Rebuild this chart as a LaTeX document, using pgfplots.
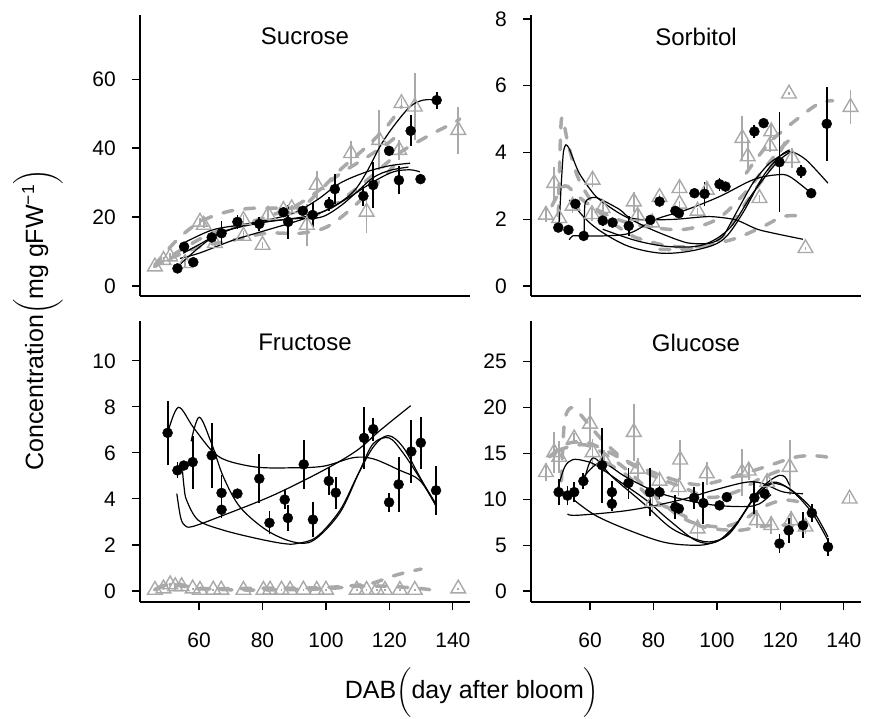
\documentclass[border=0pt]{standalone}
\usepackage{fontspec}
\setmainfont{Liberation Sans}
\usepackage{amsmath}
\usepackage{pgfplots}
\pgfplotsset{compat=1.18}

\definecolor{tricol}{RGB}{169,169,169}
\newcommand{\lbl}{\fontsize{21}{25}\selectfont}
\newcommand{\ttl}{\fontsize{24}{28}\selectfont}
\newcommand{\axl}{\fontsize{25}{30}\selectfont}
% big parentheses round the units
\newcommand{\lp}{{\fontsize{20}{24}\selectfont$\biggl($}}
\newcommand{\rp}{{\fontsize{20}{24}\selectfont$\biggr)$}}

\pgfplotsset{
  panel/.style={
    scale only axis, width=330pt, height=281pt,
    axis x line*=bottom, axis y line*=left,
    axis line style={line width=1.2pt},
    every tick/.style={black, line width=1.2pt},
    major tick length=8pt, tick align=outside,
    xmin=41.4, xmax=145.4, clip=false,
    tick label style={font=\lbl},
    yticklabel style={anchor=east, inner sep=0pt, xshift=-16pt},
    xticklabel style={anchor=north, inner sep=0pt, yshift=-23pt},
    /pgf/number format/assume math mode=true,
  },
  bdot/.style={only marks, mark=*, mark size=5pt, black,
    error bars/.cd, y dir=both, y explicit, error mark=none,
    error bar style={line width=1.8pt, black}},
  gtri/.style={only marks, mark=triangle, mark size=8.5pt, tricol,
    mark options={line width=1.4pt},
    error bars/.cd, y dir=both, y explicit, error mark=none,
    error bar style={line width=1.8pt, tricol}},
  bfit/.style={black, line width=1.2pt, smooth, tension=0.55, no marks},
  gfit/.style={tricol, line width=3.5pt, smooth, tension=0.55,
    dash pattern=on 10pt off 12pt, line cap=round, no marks},
}

\newcommand{\ptitle}[1]{\node[font=\ttl, anchor=north, inner sep=0pt, yshift=-13pt]
  at (rel axis cs:0.5,1) {#1};}

\begin{document}
\begin{tikzpicture}
\path[use as bounding box] (0,0) rectangle (869pt,718pt);

% ---------------- Sucrose ----------------
\begin{axis}[panel, at={(140pt,422pt)}, anchor=south west,
  ymin=-2.9, ymax=78.6, ytick={0,20,40,60}, xtick=\empty]
\addplot[gfit] coordinates {(46,6) (53,13.3) (60.3,18.6) (68.7,21.5) (76,22.5) (83.7,22.6) (92,23) (97,26.6) (104.4,33.6) (112.8,40.4) (119.1,46.2) (123.8,52)};
\addplot[gfit] coordinates {(46,5.6) (56,11.4) (64,15.3) (71,17) (81,20) (89.7,22.9) (97,27.2) (104.4,32.5) (112.8,37.3) (119.1,41.1) (123,44)};
\addplot[gfit] coordinates {(51,8) (60.3,11.4) (70.8,13.3) (81.3,15.3) (91.8,15.3) (100.2,17.1) (108.6,22.9) (117,30.6) (123,36.4)};
\addplot[gfit] coordinates {(95,20) (102,23) (112.8,30.6) (123,38.5) (133.8,44.3) (140.1,47.2) (142.2,48.5)};
\addplot[gtri] table[x index=0, y index=1, y error index=2] {
46.1 5.6 0.5
48.8 7.5 1.0
50.9 8.5 1.0
55.6 6.6 1.0
60.3 18.6 1.0
61.5 17.7 1.0
65.0 12.4 1.0
74.0 19.1 1.5
74.0 14.5 1.5
80.0 11.9 1.0
81.8 20.6 1.5
86.6 22.0 1.0
89.2 22.5 1.0
94.0 17.7 6.0
97.1 29.3 4.0
107.9 38.5 3.5
112.8 21.5 6.0
116.8 42.3 8.7
123.1 39.4 3.0
123.8 53.0 1.5
128.0 52.0 9.7
141.7 45.2 6.8
};
\addplot[bfit] coordinates {(55,12.4) (64,16.2) (72.9,17.7) (81.3,19.1) (89.7,21.1) (97.1,24.9) (104.4,29.8) (112.8,33.1) (120.2,34.9) (126.5,35.6)};
\addplot[bfit] coordinates {(53.2,5.6) (60.3,11.4) (66.5,15.4) (72.9,17.1) (81.3,18.6) (89.7,19.6) (96,20.6) (102.3,23) (108.6,27.3) (112.8,33) (117,40.4) (121.2,46.2) (126.5,52) (130.6,53.9) (134.9,54)};
\addplot[bfit] coordinates {(54,8) (60.3,9.6) (70.8,13.3) (81.3,16.2) (91.8,19.1) (100.2,22) (107.6,25.9) (114.9,30.2) (121.2,33.1) (126.5,33.7) (129.6,33.1)};
\addplot[bfit] coordinates {(55,9.5) (60,12) (65,14.5) (72,17) (80,18.5) (90,19.5) (96,19.6) (100,20.5) (105,23.5) (110,27.5) (115,31.5) (120,33.5) (126,34.5)};
\addplot[bdot] table[x index=0, y index=1, y error index=2] {
53.2 5.1 0.8
55.3 11.4 1.5
58.2 6.9 0.8
64.0 14.1 1.0
67.1 15.3 3.6
72.1 18.6 2.0
79.0 18.0 2.0
86.6 21.4 1.0
88.1 18.6 5.0
92.7 21.8 1.0
95.8 20.6 3.5
101.0 23.8 2.0
102.8 28.1 4.3
111.8 26.1 3.0
114.9 29.3 6.7
119.9 39.2 1.0
123.0 30.7 4.0
126.7 45.0 4.5
129.8 31.0 1.0
134.9 53.9 2.5
};
\ptitle{Sucrose}
\end{axis}

% ---------------- Sorbitol ----------------
\begin{axis}[panel, at={(531pt,422pt)}, anchor=south west,
  ymin=-0.3, ymax=8.12, ytick={0,2,4,6,8}, xtick=\empty]
\addplot[gfit] coordinates {(50,2.1) (50.7,4.5) (51.3,5.05) (53,4.3) (56,3.3) (60,2.6) (64,2.1) (70,1.7) (74.5,1.45) (85,1.2) (95.5,1.2) (101.8,1.5) (109.2,2.5) (116.6,3.5) (121.8,4.35)};
\addplot[gfit] coordinates {(48,2.4) (52,3.0) (56,2.7) (62,2.3) (70,1.95) (80,1.75) (90,1.7) (100,2.0) (108,2.7) (114,3.4) (119,4.0) (123,4.4)};
\addplot[gfit] coordinates {(109.2,3.38) (116.6,4.3) (125,4.98) (132.3,5.48) (136.5,5.55)};
\addplot[gfit] coordinates {(82,1.1) (90,1.1) (97.6,1.23) (106,1.43) (114.5,1.78) (120.8,2.08) (126,2.1)};
\addplot[gtri] table[x index=0, y index=1, y error index=2] {
46.1 2.13 0.2
48.7 3.08 0.5
50.3 2.03 0.2
54.5 2.4 0.2
60.8 3.18 0.2
60.6 2.15 0.2
64.0 2.33 0.2
73.8 2.53 0.3
75.0 2.1 0.2
79.6 1.9 0.15
81.9 2.66 0.1
88.2 2.93 0.2
88.2 2.46 0.1
93.9 2.25 0.1
96.8 2.88 0.2
108.0 4.43 0.65
109.7 3.88 0.5
113.4 2.63 0.1
117.1 4.63 0.2
116.6 4.2 0.2
122.7 5.76 0.05
123.7 3.83 0.3
127.9 1.13 0.05
142.1 5.36 0.5
};
\addplot[bfit, tension=0.4] coordinates {(50.2,1.7) (50.9,3.0) (51.6,4.0) (52.4,4.23) (53.5,4.1) (56.6,3.38) (61.9,2.68) (69.2,2.18) (79.7,1.68) (90.3,1.3) (97.6,1.28) (101.8,1.48) (106,2.18) (111.3,3.08) (116.6,3.68) (122.9,4.03) (128.1,3.78) (135,3.08)};
\addplot[bfit] coordinates {(53.5,1.38) (54.5,1.5) (58,1.5) (64,1.5) (72.4,1.58) (80.8,2.0) (90.3,2.28) (100.8,2.68) (111.3,3.18) (118.7,3.33) (122.9,3.28) (129.7,2.78)};
\addplot[bfit, tension=0.4] coordinates {(58.2,1.53) (58.5,2.5) (61.9,2.65) (69.2,2.3) (72.4,2.05) (77.7,1.98) (87.1,2.0) (97.6,2.08) (106,1.98) (113.4,1.68) (127.1,1.4)};
\addplot[bfit] coordinates {(53.5,2.58) (58.7,2.0) (64,1.6) (72.4,1.18) (82.9,0.98) (93.4,1.08) (101.8,1.38) (108.1,2.18) (114.5,3.28) (119.7,3.88) (122.9,4.08)};
\addplot[bfit] coordinates {(64,1.7) (74.5,1.36) (85,1.18) (95.5,1.23) (104,1.73) (111.3,2.78) (118.7,3.68) (122.9,4.0)};
\addplot[bdot] table[x index=0, y index=1, y error index=2] {
50.0 1.75 0.1
53.2 1.68 0.15
55.4 2.46 0.1
58.0 1.5 0.1
64.0 1.96 0.15
67.1 1.9 0.12
72.2 1.8 0.3
79.0 1.98 0.1
81.9 2.53 0.15
86.9 2.25 0.1
88.0 2.18 0.1
92.9 2.78 0.1
96.1 2.76 0.35
100.8 3.05 0.2
102.7 2.98 0.15
111.8 4.63 0.2
114.7 4.88 0.05
119.7 3.71 1.5
126.6 3.43 0.2
129.7 2.78 0.05
134.6 4.86 1.1
};
\ptitle{Sorbitol}
\end{axis}

% ---------------- Fructose ----------------
\begin{axis}[panel, at={(140pt,116pt)}, anchor=south west,
  ymin=-0.48, ymax=11.73, ytick={0,2,4,6,8,10}, xtick={60,80,100,120,140}]
\addplot[gfit] coordinates {(46,0.05) (50,0.3) (55,0.2) (60,0.1) (70,0.1) (80,0.12) (90,0.12) (100,0.15) (110,0.25) (115,0.35) (120,0.6) (125,0.8) (130,0.95)};
\addplot[gfit] coordinates {(47,0.1) (52,0.35) (58,0.15) (70,0.05) (85,0.05) (100,0.1) (110,0.2) (120,0.2) (130,0.1) (133,0.05)};
\addplot[gtri] table[x index=0, y index=1, y error index=2] {
46.1 0.04 0.05
48.8 0.1 0.05
50.9 0.28 0.05
52.5 0.2 0.05
54.5 0.2 0.05
58.0 0.1 0.05
60.3 0.04 0.05
64.5 0.05 0.05
67.0 0.05 0.05
74.0 0.04 0.05
80.3 0.04 0.05
82.4 0.05 0.05
86.0 0.05 0.05
88.7 0.04 0.05
92.9 0.05 0.05
97.1 0.04 0.05
100.0 0.05 0.05
109.7 0.05 0.05
112.8 0.04 0.05
116.0 0.05 0.05
118.6 0.04 0.05
123.3 0.04 0.05
128.0 0.04 0.05
141.7 0.1 0.05
};
\addplot[bfit] coordinates {(50.2,6.9) (53.5,7.98) (58.2,7.11) (64,6.1) (68.7,5.67) (78.2,5.38) (88.6,5.35) (99.2,5.42) (108.6,5.79) (114.9,5.74) (123.3,5.24) (129.6,4.8) (134.6,3.72)};
\addplot[bfit] coordinates {(54.8,5.2) (55.3,4.5) (56.1,3.94) (59.8,3.07) (67.7,2.64) (78.2,2.28) (86.6,2.06) (90.8,2.06) (97.1,2.35) (104.4,3.5) (109.7,4.95) (114.9,6.25) (119.6,6.75) (124.3,6.25) (129.6,4.95) (134.6,3.72)};
\addplot[bfit] coordinates {(57.5,6.5) (60.1,7.55) (64,6.39) (67.7,4.95) (72.9,3.65) (81.3,2.64) (89.7,2.13) (96.1,2.2) (104.4,3.4) (110.7,5.24) (114.9,6.4) (119.9,6.65) (124.3,6.0) (129.6,4.9) (134.6,3.8)};
\addplot[bfit] coordinates {(53,4.23) (54.2,3.2) (55.5,2.85) (58,2.8) (67.7,3.29) (83.4,4.16) (99.2,5.24) (109.7,6.1) (117,6.97) (126.7,8.05)};
\addplot[bdot] table[x index=0, y index=1, y error index=2] {
50.1 6.87 1.4
53.2 5.24 0.35
55.2 5.45 0.1
58.0 5.6 1.15
64.0 5.89 1.4
67.1 4.26 0.8
67.1 3.53 0.35
72.1 4.23 0.15
79.0 4.88 1.06
82.2 2.96 0.5
87.0 3.97 0.4
88.0 3.17 0.55
93.0 5.5 1.08
95.9 3.1 0.75
100.9 4.78 0.6
103.1 4.27 0.7
112.0 6.65 1.35
114.9 7.03 0.5
119.9 3.85 0.4
122.9 4.63 1.2
126.9 6.06 1.38
129.9 6.44 1.12
134.7 4.37 1.08
};
\ptitle{Fructose}
\end{axis}

% ---------------- Glucose ----------------
\begin{axis}[panel, at={(531pt,116pt)}, anchor=south west,
  ymin=-1.19, ymax=29.4, ytick={0,5,10,15,20,25}, xtick={60,80,100,120,140}]
\addplot[gfit] coordinates {(51,12) (52,18.5) (54.5,20) (58,18.8) (64,16.4) (71.4,14.2) (80.8,12.8) (89.2,11.85) (95.5,11.6) (104,12.3) (115,13.5) (125,14.6) (132,14.7) (137.6,14.4)};
\addplot[gfit] coordinates {(47.2,14.6) (52.4,16.0) (58.7,16.2) (66.1,15.1) (73,13.8) (80.8,12.4) (89.2,11.3) (97.6,10.2) (106,10.8) (113.4,12.2) (119.7,13.1) (122,13.2)};
\addplot[gfit] coordinates {(49.8,15.3) (58.7,15.9) (69.2,13.85) (79.7,10.6) (87.1,8.4) (93.4,7.35) (101.8,7.0) (108.1,7.7) (114.5,9.15) (120.8,9.9) (126,9.7)};
\addplot[gfit] coordinates {(65,14) (72,12.5) (79.7,10) (90.3,8.06) (95.5,7.0) (106,6.6) (113.4,7.0) (119.7,7.2) (128.1,7.0)};
\addplot[gtri] table[x index=0, y index=1, y error index=2] {
46.1 12.94 1.0
48.7 15.1 2.2
50.3 14.6 1.7
55.0 16.6 0.6
60.0 18.2 2.8
60.8 15.1 1.5
64.5 14.2 1.2
73.8 17.3 3.1
75.0 13.3 1.2
81.9 12.0 1.0
79.7 9.7 1.2
88.4 14.3 2.2
87.9 11.3 1.0
93.9 6.8 1.1
96.8 12.8 1.2
107.9 12.9 2.6
110.0 13.1 1.0
112.6 7.7 0.8
115.8 11.85 0.8
117.1 7.16 1.0
122.9 13.5 3.0
123.4 7.7 1.0
127.9 7.0 0.8
141.8 10.05 0.5
};
\addplot[bfit] coordinates {(49.8,11.1) (52,13.5) (54.5,14.3) (58,14.2) (61.9,13.7) (70.3,11.7) (77.7,9.9) (85,7.7) (93.4,5.5) (99.7,5.35) (106,7.3) (112.4,10.6) (116.6,12.0) (119.7,12.6) (121.5,12.4) (122.9,11.5)};
\addplot[bfit] coordinates {(58.2,12) (61,14.5) (67.1,12.4) (77,9.5) (85,7.0) (91.3,5.9) (97.6,5.35) (103.9,6.25) (111.3,9.9) (116.6,11.6) (120.8,11.5) (125,10.6) (130.2,8.8) (135,5.9)};
\addplot[bfit] coordinates {(55,9.9) (61.9,8.2) (72.4,6.6) (82.9,5.35) (91.3,5.0) (97.6,5.15) (104,6.3) (111,9.8) (114.5,11.3) (118.7,11.85) (124,10.8) (130,8.5) (135,5.5)};
\addplot[bfit] coordinates {(52.9,8.4) (56,8.25) (72.4,8.8) (88.2,9.9) (98.7,10.95) (109.2,11.85) (114.5,11.7) (120.8,10.8) (127.1,10.6)};
\addplot[bfit] coordinates {(58.2,12.5) (63.5,14.0) (71.4,12.4) (80.8,10.8) (90.3,9.9) (99.7,9.33) (109.2,9.2) (113.4,9.5) (117,10.5)};
\addplot[bdot] table[x index=0, y index=1, y error index=2] {
50.1 10.77 1.4
52.9 10.4 1.0
55.0 10.77 1.1
57.9 11.97 0.9
63.8 13.7 4.1
66.9 10.77 1.2
66.9 9.5 0.8
72.1 11.75 1.7
78.9 10.77 2.6
81.9 10.77 0.8
86.9 9.15 1.3
88.0 8.97 0.3
92.8 10.16 1.2
95.7 9.58 2.3
100.8 9.33 0.3
103.1 10.23 0.5
111.8 10.16 1.8
115.0 10.6 0.6
119.7 5.17 1.0
122.6 6.6 1.4
127.1 7.16 1.4
129.9 8.5 1.0
135.0 4.8 1.0
};
\ptitle{Glucose}
\end{axis}

\node[font=\axl, rotate=90, inner sep=0pt] at (38pt,398pt)
  {Concentration\lp mg gFW\textsuperscript{−1}\rp};
\node[font=\axl, inner sep=0pt] at (472pt,25pt) {DAB\lp day after bloom\rp};
\end{tikzpicture}
\end{document}
